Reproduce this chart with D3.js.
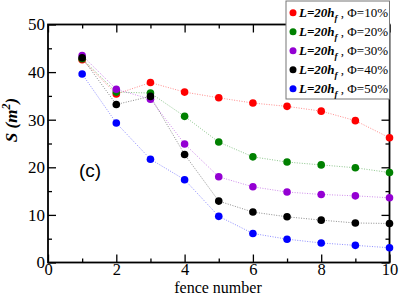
<!DOCTYPE html>
<html><head><meta charset="utf-8">
<script src="https://cdn.jsdelivr.net/npm/d3@7"></script>
<style>body{margin:0;background:#fff}</style>
</head><body>
<svg id="c" width="399" height="296"></svg>
<script>
const fences = [1,2,3,4,5,6,7,8,9,10];
const phiLabels = ["10%","20%","30%","40%","50%"];
const colors = ["#ff0000","#008000","#9400d3","#000000","#0000ff"];
const s10 = [42.6,35.4,37.8,35.8,34.6,33.5,32.8,31.8,29.8,26.2];
const s20 = [42.8,35.8,35.6,30.7,25.3,22.2,21.1,20.5,19.9,18.9];
const s30 = [43.5,36.4,34.3,24.9,18.0,15.9,14.8,14.3,14.0,13.6];
const s40 = [43.0,33.2,34.9,22.7,12.9,10.6,9.6,8.9,8.3,8.2];
const s50 = [39.6,29.3,21.7,17.4,9.7,6.1,4.9,4.1,3.6,3.1];
const series = [s10,s20,s30,s40,s50];
const xTicks = [0,2,4,6,8,10];
const yTicks = [0,10,20,30,40,50];

const svg = d3.select("#c");
const L=48, R=389.5, T=24.5, B=262.5;
const x = d3.scaleLinear().domain([0,10]).range([L,R]);
const y = d3.scaleLinear().domain([0,50]).range([B,T]);
const serif = "Liberation Serif, Times New Roman, serif";

const xMinor = d3.range(1,10,2);
const yMinor = d3.range(5,50,10);
function axisG(axis, tr, fs){
  const g = svg.append("g").attr("transform",tr).call(axis);
  g.attr("font-family",serif).attr("font-size",fs);
  g.select(".domain").remove();
  g.selectAll("line").attr("stroke","#000").attr("stroke-width",1.3);
  g.selectAll("text").style("font-family",serif).attr("fill","#000");
  return g;
}
const fmt = d3.format("d");
axisG(d3.axisBottom(x).tickValues(xTicks).tickSize(-8).tickPadding(1).tickFormat(fmt), `translate(0,${B})`, 16.5);
axisG(d3.axisBottom(x).tickValues(xMinor).tickSize(-4).tickFormat(""), `translate(0,${B})`, 16);
axisG(d3.axisTop(x).tickValues(xTicks).tickSize(-8).tickFormat(""), `translate(0,${T})`, 16);
axisG(d3.axisTop(x).tickValues(xMinor).tickSize(-4).tickFormat(""), `translate(0,${T})`, 16);
axisG(d3.axisLeft(y).tickValues(yTicks).tickSize(-8).tickPadding(3).tickFormat(fmt), `translate(${L},0)`, 17);
axisG(d3.axisLeft(y).tickValues(yMinor).tickSize(-4).tickFormat(""), `translate(${L},0)`, 16);
axisG(d3.axisRight(y).tickValues(yTicks).tickSize(-8).tickFormat(""), `translate(${R},0)`, 16);
axisG(d3.axisRight(y).tickValues(yMinor).tickSize(-4).tickFormat(""), `translate(${R},0)`, 16);

svg.append("rect").attr("x",L).attr("y",T).attr("width",R-L).attr("height",B-T)
  .attr("fill","none").attr("stroke","#000").attr("stroke-width",1.8);

const line = d3.line().x((d,i)=>x(fences[i])).y(d=>y(d));
series.forEach((s,k)=>{
  svg.append("path").datum(s).attr("d",line).attr("fill","none")
    .attr("stroke",colors[k]).attr("stroke-width",1).attr("stroke-dasharray","1,1.5").attr("opacity",0.45);
});
series.forEach((s,k)=>{
  svg.append("g").selectAll("circle").data(s).join("circle")
    .attr("cx",(d,i)=>x(fences[i])).attr("cy",d=>y(d)).attr("r",3.8).attr("fill",colors[k]);
});

svg.append("text").attr("x",218).attr("y",292.5).attr("text-anchor","middle")
  .attr("font-family",serif).attr("font-size",16).text("fence number");
const yl = svg.append("text").attr("transform","translate(17,120) rotate(-90)").attr("text-anchor","middle")
  .attr("font-family",serif).attr("font-size",17).attr("font-weight","bold").attr("font-style","italic");
yl.append("tspan").text("S (m");
yl.append("tspan").attr("font-size",12).attr("dy",-7).text("2");
yl.append("tspan").attr("dy",7).text(")");

svg.append("text").attr("x",90).attr("y",177).attr("text-anchor","middle")
  .attr("font-family","Liberation Sans, Arial, sans-serif").attr("font-size",19).text("(c)");

const lg = svg.append("g");
lg.append("rect").attr("x",286).attr("y",1).attr("width",103.5).attr("height",98)
  .attr("fill","#fff").attr("stroke","#777").attr("stroke-width",1);
phiLabels.forEach((p,k)=>{
  const yy = 12.7 + k*19;
  lg.append("circle").attr("cx",293).attr("cy",yy).attr("r",3.5).attr("fill",colors[k]);
  const t = lg.append("text").attr("x",299).attr("y",yy+4).attr("font-family",serif).attr("font-size",13);
  t.append("tspan").attr("font-weight","bold").attr("font-style","italic").text("L=20h");
  t.append("tspan").attr("font-style","italic").attr("font-weight","bold").attr("font-size",9).attr("dy",4).text("f");
  t.append("tspan").attr("dy",-4).text(" , \u03A6=" + p);
});
</script>
</body></html>
